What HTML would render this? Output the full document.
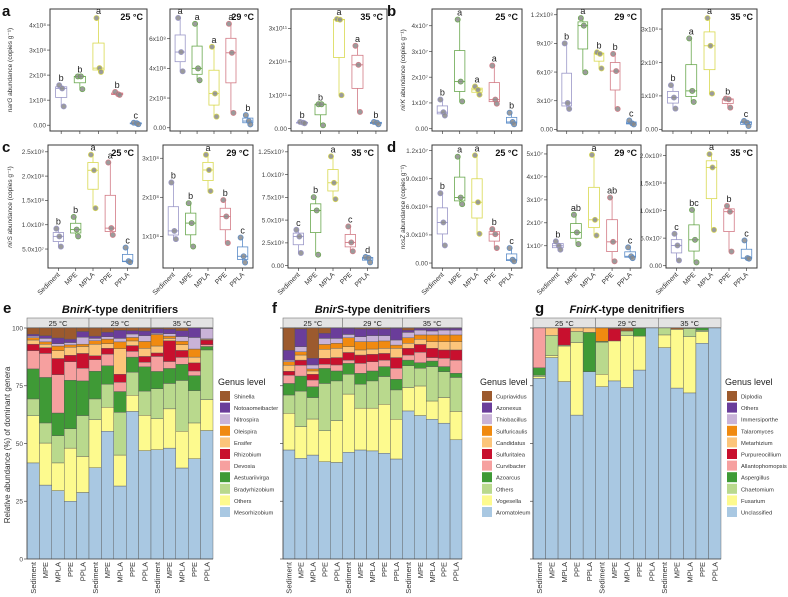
<!DOCTYPE html>
<html><head><meta charset="utf-8"><style>
html,body{margin:0;padding:0;background:#fff;}
svg{display:block;font-family:"Liberation Sans",Arial,sans-serif;}
</style></head><body>
<svg id="fig" width="788" height="597" viewBox="0 0 788 597" xmlns="http://www.w3.org/2000/svg">
<rect width="788" height="597" fill="#fff"/>
</svg>
<script>
// ---------- data: box plot panels ----------
const groups = ["Sediment","MPE","MPLA","PPE","PPLA"];
const temps = ["25 °C","29 °C","35 °C"];
const groupColors = ["#9a97c8","#6aa84f","#d9d950","#d27a85","#5b8cc8"];

const narG25 = [[1.6,1.47,0.75],[1.95,1.95,1.44],[4.28,2.28,2.13],[1.33,1.24,1.21],[0.1,0.08,0.04]];
const narG29 = [[7.4,5.1,3.8],[7.0,4.0,3.2],[5.45,2.3,0.75],[7.0,5.05,1.0],[0.85,0.45,0.22]];
const narG35 = [[0.2,0.18,0.16],[0.73,0.73,0.1],[3.28,3.26,1.0],[2.48,1.91,0.5],[0.2,0.18,0.13]];
const nirK25 = [[1.13,0.64,0.51],[4.24,1.83,1.06],[1.64,1.51,1.32],[2.45,1.13,0.97],[0.62,0.26,0.17]];
const nirK29 = [[9.0,2.76,2.14],[11.65,10.86,5.97],[8.07,7.9,6.38],[7.9,6.1,2.14],[0.93,0.62,0.52]];
const nirK35 = [[1.32,0.95,0.62],[2.72,1.15,0.82],[3.33,2.5,1.07],[0.92,0.9,0.65],[0.25,0.2,0.1]];
const nirS25 = [[0.92,0.76,0.55],[1.16,0.9,0.76],[2.44,2.12,1.34],[2.28,0.93,0.79],[0.53,0.25,0.23]];
const nirS29 = [[2.38,1.14,0.93],[1.85,1.34,0.74],[3.09,2.7,2.16],[1.93,1.51,0.83],[0.97,0.49,0.33]];
const nirS35 = [[3.94,3.2,1.39],[7.52,6.06,1.2],[12.0,9.1,7.3],[4.3,2.55,1.57],[0.95,0.84,0.36]];
const nosZ25 = [[7.45,4.33,1.88],[11.35,6.99,6.28],[11.5,6.49,3.12],[3.62,3.08,1.6],[1.6,0.35,0.18]];
const nosZ29 = [[1.19,1.0,0.83],[2.35,1.58,1.07],[4.96,2.13,1.45],[3.1,1.17,0.32],[0.93,0.54,0.46]];
const nosZ35 = [[5.78,3.67,0.96],[10.12,4.7,0.6],[20.24,17.83,6.5],[10.84,9.8,2.57],[4.58,1.39,1.27]];

const lettersA = [["b","b","a","b","c"],["a","a","a","a","b"],["b","b","a","a","b"]];
const lettersB = [["b","a","a","a","b"],["b","a","b","b","c"],["b","a","a","b","c"]];
const lettersC = [["b","b","a","a","c"],["b","b","a","b","c"],["c","b","a","c","d"]];
const lettersD = [["b","a","a","b","c"],["b","ab","a","ab","c"],["c","bc","a","b","c"]];

const ticksA = [[0,1,2,3,4],[0,2,4,6],[0,1,2,3]];
const tickLabA = [["0.00","1x10⁸","2x10⁸","3x10⁸","4x10⁸"],["0.00","2x10⁸","4x10⁸","6x10⁸"],["0.00","1x10¹¹","2x10¹¹","3x10¹¹"]];
const ticksB = [[0,1,2,3,4],[0,3,6,9,12],[0,1,2,3]];
const tickLabB = [["0.00","1x10⁷","2x10⁷","3x10⁷","4x10⁷"],["0.00","3x10⁷","6x10⁷","9x10⁷","1.2x10⁸"],["0.00","1x10⁸","2x10⁸","3x10⁸"]];
const ticksC = [[0.5,1,1.5,2,2.5],[1,2,3],[0,2.5,5,7.5,10,12.5]];
const tickLabC = [["5.0x10⁷","1.0x10⁸","1.5x10⁸","2.0x10⁸","2.5x10⁸"],["1x10⁸","2x10⁸","3x10⁸"],["0.00","2.5x10⁸","5.0x10⁸","7.5x10⁸","1.0x10⁹","1.25x10⁹"]];
const ticksD = [[0,3,6,9,12],[1,2,3,4,5],[0,5,10,15,20]];
const tickLabD = [["0.00","3.0x10⁶","6.0x10⁶","9.0x10⁶","1.2x10⁷"],["1x10⁷","2x10⁷","3x10⁷","4x10⁷","5x10⁷"],["0.00","5.0x10⁷","1.0x10⁸","1.5x10⁸","2.0x10⁸"]];

const limsA = [[-0.23,4.64],[-0.22,8.0],[-0.07,3.58]];
const limsB = [[-0.09,4.65],[-0.17,12.6],[-0.05,3.6]];
const limsC = [[0.11,2.64],[0.19,3.34],[-0.26,13.25]];
const limsD = [[-0.53,12.6],[0.03,5.39],[-0.42,21.9]];

// ---------- data: stacked bars ----------
const samples = ["Sediment","MPE","MPLA","PPE","PPLA","Sediment","MPE","MPLA","PPE","PPLA","Sediment","MPE","MPLA","PPE","PPLA"];
const stackColors = ["#a9c8e2","#fdfa8e","#b9d98d","#3f9a36","#f6a09f","#c8102e","#fcc57a","#f08a10","#c9b3d8","#6a3d9a","#9c5a2e"];
const genusE = ["Mesorhizobium","Others","Bradyrhizobium","Aestuariivirga","Devosia","Rhizobium","Ensifer","Oleispira","Nitrospira","Notoaomeibacter","Shinella"];
const genusF = ["Aromatoleum","Vogesella","Others","Azoarcus","Curvibacter","Sulfuritalea","Candidatus","Sulfuricaulis","Thiobacillus","Azonexus","Cupriavidus"];
const genusG = ["Unclassified","Fusarium","Chaetomium","Aspergillus","Allantophomopsis","Purpureocillium","Metarhizium","Talaromyces","Immersiporthe","Others","Diplodia"];

const abundE = [
[41.6,20.4,7.3,13,7.9,2.8,1.8,1,0.7,0.8,2.7],
[32,18.2,8.7,19.7,10.4,2.5,1.5,1,1.5,1.2,3.3],
[29.6,12,11.8,9.8,16.6,7,3.4,2,1,2.5,4.3],
[25,23,8.4,21,8,2.8,3.5,1,1,1.5,4.8],
[28.8,15.6,17.7,15,5.5,6.4,3,1,3,2.5,1.5],
[39.5,20.8,9,12,5,1.7,5,1.5,1,1,3.5],
[55.3,10.4,10,8,5,2.5,2,2,1,2,1.8],
[31.6,13.4,18.5,9,4,3.5,11,3,1.5,3.5,1],
[63.9,7,10,6.5,2.5,2.5,2,1.5,1.5,1.5,1.1],
[46.9,15.3,10.5,10.5,2,2.5,3.5,3,2.5,2,1.3],
[47.3,13.4,13,7.5,6.5,1.5,3,5,0.5,2,0.3],
[48,17,11,6.5,3,9,1,1,1,2,0.5],
[39.4,15.9,22,7,3,3,2.5,1.5,2,2.5,1.2],
[43.4,15.5,14,6.5,2,3.5,2.5,3.5,5,4.1,0],
[55.6,13.4,21.5,1.5,0.8,2,0.3,0.2,4.5,0.2,0]];
const abundF = [
[47.2,15.9,7.9,5,3.6,1.7,2.6,1.5,0.7,4.3,9.6],
[43.6,13.7,15.4,6.5,4.7,2.2,2.2,1.4,2.2,7.7,0.4],
[45,15.6,9.3,4.7,2.9,2.5,1.4,0.9,1.7,2.9,13.1],
[42.1,13.4,20.5,6.5,1.8,2.6,3.9,2.1,2.6,2.2,2.3],
[41.8,18.1,17.2,4.3,2.6,3.2,4,2.2,2.1,4.5,0],
[46.2,25.2,8.6,4.7,1.4,3.3,2.5,3.9,1.4,2.7,0.1],
[47.2,18.1,10.4,4.7,4.3,3.6,2.2,3.6,2.1,3.4,0.4],
[46.8,18.5,11.8,4.3,4,3.2,2.3,3.2,2.6,2.9,0.4],
[45.8,21.2,12,4.3,2.8,2.9,2.2,3.2,2.3,2.9,0.4],
[43.3,17.2,12.7,4.6,4.8,4.6,4,1.4,2.2,5.1,0.1],
[64.1,10.1,9.5,2.4,2.2,2.9,2.2,2.4,2.3,1,0.9],
[62.1,12.8,7.7,2.4,4.5,3.4,2.2,1.9,2.1,0.8,0.1],
[60.5,7.9,14.9,2.4,1.5,4,2.9,2.9,1.7,1.2,0.1],
[58.8,11.1,11.2,2.2,3.6,3.6,3.6,2.9,2.1,0.8,0.1],
[51.6,12.3,14.7,1.8,5.7,4.4,3.6,2.9,2.1,0.8,0.1]];
const abundG = [
[78.2,0.7,0.7,3.2,17.2,0,0,0,0,0,0],
[87.2,0.9,8.7,0,0,0,3.2,0,0,0,0],
[76.8,15.4,0.4,0,0,7.4,0,0,0,0,0],
[62.3,31.4,4.8,0,0,0,1.5,0,0,0,0],
[81.1,0,0,17,0,0,1.9,0,0,0,0],
[74.6,5.4,13.9,0.3,0,0,0,5.8,0,0,0],
[77.1,17.3,0,0,0,5.2,0,0,0,0,0.4],
[74.2,22.5,2,0,0,0,0,0,0,0,1.3],
[81.8,14.7,0,3.4,0,0,0,0,0,0,0.1],
[100,0,0,0,0,0,0,0,0,0,0],
[91.5,5.5,3,0,0,0,0,0,0,0,0],
[74,25.4,0,0,0,0,0,0,0,0,0.6],
[71.9,24.3,3.6,0,0,0,0,0,0,0,0.2],
[93.4,5,0.6,1,0,0,0,0,0,0,0],
[100,0,0,0,0,0,0,0,0,0,0]];

// ---------- helpers ----------
const NS = "http://www.w3.org/2000/svg";
const svg = document.getElementById("fig");
function mk(tag, attrs, parent, txt){
  const e = document.createElementNS(NS, tag);
  for (const k in attrs) e.setAttribute(k, attrs[k]);
  if (txt !== undefined) e.textContent = txt;
  (parent || svg).appendChild(e);
  return e;
}

function boxPanel(fr, series, lims, ticks, tickLabs, letters, temp, showX, name){
  const g = mk("g", {});
  
  
  const [l, t, r, b] = fr;
  const y = v => b - (v - lims[0]) / (lims[1] - lims[0]) * (b - t);
  const x = i => l + (i + 1 - 0.4) / 5.2 * (r - l);
  const unit = (r - l) / 5.2;
  // ticks
  ticks.forEach((tv, k) => {
    const ty = y(tv);
    mk("line", {x1:l-3, x2:l, y1:ty, y2:ty, stroke:"#444", "stroke-width":0.7}, g);
    const tl = mk("text", {x:l-4, y:ty+2.3, "font-size":6.5, fill:"#444", "text-anchor":"end"}, g, tickLabs[k]);
    
    
  });
  series.forEach((pts, i) => {
    const s = pts.slice().sort((a, c) => a - c);
    const q1 = (s[0] + s[1]) / 2, med = s[1], q3 = (s[1] + s[2]) / 2;
    const cx = x(i), col = groupColors[i], bw = unit * 0.6;
    mk("line", {x1:cx, x2:cx, y1:y(s[2]), y2:y(q3), stroke:col, "stroke-width":0.8}, g);
    mk("line", {x1:cx, x2:cx, y1:y(q1), y2:y(s[0]), stroke:col, "stroke-width":0.8}, g);
    const bx = mk("rect", {x:cx-bw/2, y:y(q3), width:bw, height:Math.max(0.8, y(q1)-y(q3)), fill:"#fff", stroke:col, "stroke-width":0.8}, g);
    
    
    mk("line", {x1:cx-bw/2, x2:cx+bw/2, y1:y(med), y2:y(med), stroke:col, "stroke-width":0.9}, g);
    const jit = [-2, 1, 2.5];
    pts.forEach((p, k) => {
      const c = mk("circle", {cx:cx+jit[k], cy:y(p), r:2.6, fill:"#8a8a8a", "fill-opacity":0.85, stroke:col, "stroke-width":0.7}, g);
      
      
    });
    const lt = mk("text", {x:cx, y:y(s[2])-4, "font-size":9, fill:"#222", "text-anchor":"middle"}, g, letters[i]);
    
    
    mk("line", {x1:cx, x2:cx, y1:b, y2:b+3, stroke:"#444", "stroke-width":0.7}, g);
    if (showX){
      const xl = mk("text", {x:0, y:0, "font-size":6.8, fill:"#333", "text-anchor":"end", transform:`translate(${cx+2},${b+7}) rotate(-45)`}, g, groups[i]);
      
      
    }
  });
  const fb = mk("rect", {x:l, y:t, width:r-l, height:b-t, fill:"none", stroke:"#3a3a3a", "stroke-width":1}, g);
  
  
  const tt = mk("text", {x:r-4, y:t+11, "font-size":9, "font-weight":"bold", fill:"#111", "text-anchor":"end"}, g, temp);
  
  
}

function boxRow(frames, data, lims, ticks, labs, letters, showX, prefix){
  frames.forEach((fr, j) => boxPanel(fr, data[j], lims[j], ticks[j], labs[j], letters[j], temps[j], showX, prefix + "-" + temps[j].slice(0,2)));
}

boxRow([[50,9,147,131],[170,9,258,131],[291,9,387,131]], [narG25,narG29,narG35], limsA, ticksA, tickLabA, lettersA, false, "narg-panel");
boxRow([[432,9,522,131],[557,9,641,131],[662,9,757,131]], [nirK25,nirK29,nirK35], limsB, ticksB, tickLabB, lettersB, false, "nirk-panel");
boxRow([[48,145,138,268],[163,145,253,268],[288,145,378,268]], [nirS25,nirS29,nirS35], limsC, ticksC, tickLabC, lettersC, true, "nirs-panel");
boxRow([[432,145,522,268],[547,145,641,268],[666,145,757,268]], [nosZ25,nosZ29,nosZ35], limsD, ticksD, tickLabD, lettersD, true, "nosz-panel");

function yTitle(x, y, gene, name){
  const t = mk("text", {x:0, y:0, "font-size":6.5, fill:"#333", "text-anchor":"middle", transform:`translate(${x},${y}) rotate(-90)`});
  
  
  mk("tspan", {"font-style":"italic"}, t, gene);
  mk("tspan", {}, t, " abundance (copies g⁻¹)");
}
yTitle(12, 70, "narG", "narg-y-axis-title");
yTitle(405, 70, "nirK", "nirk-y-axis-title");
yTitle(12, 207, "nirS", "nirs-y-axis-title");
yTitle(405, 207, "nosZ", "nosz-y-axis-title");

[["a",2,16],["b",387,16],["c",2,152],["d",387,152],["e",3,313],["f",272,313],["g",535,313]].forEach(p => {
  const t = mk("text", {x:p[1], y:p[2], "font-size":15, "font-weight":"bold", fill:"#111"}, svg, p[0]);
  
  
});

// ---------- stacked bars ----------
function stackPanel(l, r, data, genus, titleIt, showY, legX, name){
  const g = mk("g", {});
  
  
  const t = 328, b = 559;
  const y = v => b - v / 100 * (b - t);
  const bw = (r - l) / samples.length;
  data.forEach((row, i) => {
    let acc = 0;
    row.forEach((v, k) => {
      if (v <= 0) return;
      const rc = mk("rect", {x:l + i*bw, y:y(acc+v), width:bw, height:y(acc)-y(acc+v), fill:stackColors[k], stroke:"#555", "stroke-width":0.4}, g);
      
      
      acc += v;
    });
    const xl = mk("text", {x:0, y:0, "font-size":7.5, fill:"#333", "text-anchor":"end", transform:`translate(${l + i*bw + bw/2 + 2.6},${b+3}) rotate(-90)`}, g, samples[i]);
    
    
  });
  [0,25,50,75,100].forEach(v => {
    mk("line", {x1:l-3, x2:l, y1:y(v), y2:y(v), stroke:"#444", "stroke-width":0.7}, g);
    if (showY){
      const tl = mk("text", {x:l-4, y:y(v)+2.3, "font-size":6.5, fill:"#444", "text-anchor":"end"}, g, String(v));
      
      
    }
  });
  mk("line", {x1:l, x2:l, y1:t, y2:b, stroke:"#444", "stroke-width":0.8}, g);
  mk("line", {x1:l, x2:r, y1:b, y2:b, stroke:"#444", "stroke-width":0.8}, g);
  // strips
  const sw = (r - l) / 3;
  temps.forEach((tp, j) => {
    const s = mk("rect", {x:l + j*sw, y:318, width:sw, height:9.5, fill:"#e3e3e3", stroke:"#777", "stroke-width":0.6}, g);
    
    
    mk("text", {x:l + j*sw + sw/2, y:325.8, "font-size":7.5, fill:"#222", "text-anchor":"middle"}, g, tp);
  });
  const tt = mk("text", {x:(l+r)/2, y:313, "font-size":11, "font-weight":"bold", fill:"#111", "text-anchor":"middle"}, g);
  
  
  mk("tspan", {"font-style":"italic"}, tt, titleIt);
  mk("tspan", {}, tt, "-type denitrifiers");
  // legend
  const lg = mk("g", {}, g);
  
  
  mk("text", {x:legX-2, y:385, "font-size":9, fill:"#222"}, lg, "Genus level");
  for (let k = genus.length - 1, n = 0; k >= 0; k--, n++){
    const yy = 391 + n * 11.6;
    const sq = mk("rect", {x:legX, y:yy, width:10, height:10, fill:stackColors[k]}, lg);
    
    
    const lt = mk("text", {x:legX+14, y:yy+7.5, "font-size":5.8, fill:"#333"}, lg, genus[k]);
    
    
  }
}
stackPanel(27, 213, abundE, genusE, "BnirK", true, 220, "bnirk-stacked-chart");
stackPanel(283, 462, abundF, genusF, "BnirS", false, 482, "bnirs-stacked-chart");
stackPanel(533, 721, abundG, genusG, "FnirK", false, 727, "fnirk-stacked-chart");

const et = mk("text", {x:0, y:0, "font-size":8, fill:"#333", "text-anchor":"middle", transform:"translate(10,445) rotate(-90)"}, svg, "Relative abundance (%) of dominant genera");


</script>
</body></html>
